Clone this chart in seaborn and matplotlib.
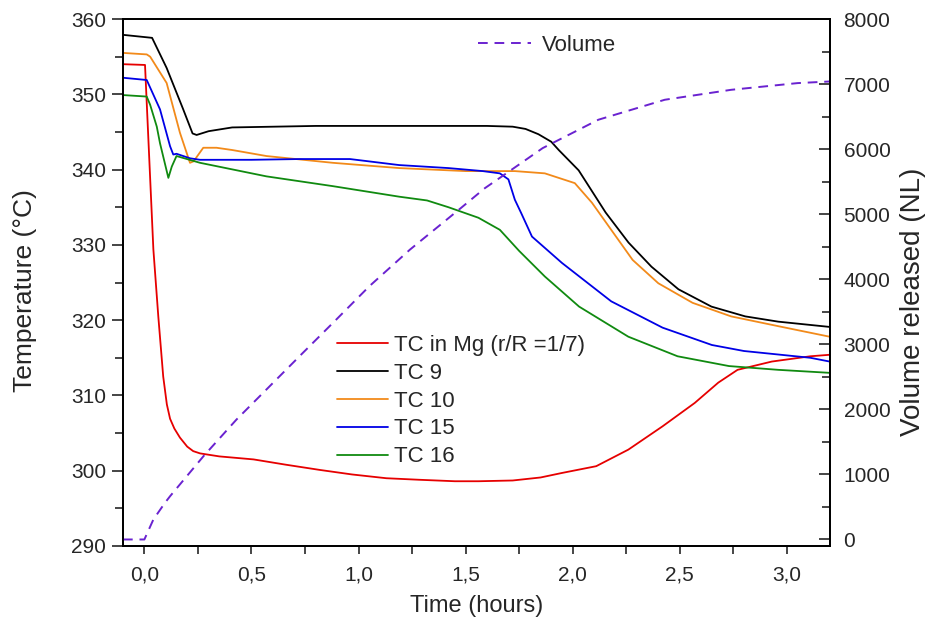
import matplotlib
matplotlib.use("Agg")
import matplotlib.pyplot as plt
from matplotlib.ticker import MultipleLocator, FuncFormatter
import seaborn as sns

# time (hours) and temperature (deg C)
mg_t = [-0.10, 0.003, 0.042, 0.065, 0.088, 0.105, 0.12, 0.14, 0.166, 0.20, 0.228, 0.26, 0.35, 0.51, 0.66,
        0.82, 0.97, 1.13, 1.28, 1.45, 1.56, 1.72, 1.85, 1.95, 2.11, 2.26, 2.42, 2.57, 2.68, 2.77, 2.93, 3.11, 3.20]
mg_T = [354.0, 353.9, 329.4, 320.5, 312.5, 308.8, 306.9, 305.6, 304.4, 303.2, 302.6, 302.3, 301.9, 301.5, 300.8,
        300.1, 299.5, 299.0, 298.8, 298.6, 298.6, 298.7, 299.1, 299.7, 300.6, 302.8, 305.9, 309.0, 311.7, 313.4,
        314.5, 315.2, 315.4]

tc9_t = [-0.10, 0.036, 0.104, 0.18, 0.225, 0.244, 0.30, 0.41, 0.80, 1.20, 1.60, 1.72, 1.78, 1.84, 1.90,
         1.935, 2.028, 2.154, 2.261, 2.368, 2.494, 2.648, 2.806, 2.96, 3.20]
tc9_T = [357.9, 357.5, 353.5, 348.1, 344.8, 344.6, 345.1, 345.6, 345.8, 345.8, 345.8, 345.7, 345.4, 344.7, 343.7,
         342.6, 339.9, 334.3, 330.3, 327.1, 324.1, 321.8, 320.5, 319.8, 319.1]

tc10_t = [-0.10, 0.011, 0.027, 0.104, 0.166, 0.213, 0.23, 0.275, 0.337, 0.41, 0.57, 0.88, 1.19, 1.50,
          1.73, 1.87, 2.01, 2.09, 2.18, 2.28, 2.40, 2.56, 2.74, 2.96, 3.20]
tc10_T = [355.5, 355.3, 355.0, 351.5, 344.9, 340.9, 341.1, 342.9, 342.9, 342.6, 341.8, 340.9, 340.2, 339.8,
          339.8, 339.5, 338.2, 335.6, 332.0, 328.0, 324.9, 322.3, 320.5, 319.2, 317.8]

tc15_t = [-0.10, 0.011, 0.073, 0.12, 0.135, 0.15, 0.213, 0.26, 0.50, 0.725, 0.96, 1.19, 1.42, 1.58,
          1.66, 1.70, 1.73, 1.76, 1.81, 1.95, 2.18, 2.42, 2.65, 2.80, 3.11, 3.20]
tc15_T = [352.2, 351.9, 348.0, 343.1, 342.0, 342.1, 341.5, 341.3, 341.3, 341.4, 341.4, 340.6, 340.2, 339.8,
          339.5, 338.7, 336.0, 334.2, 331.1, 327.6, 322.5, 319.0, 316.7, 315.9, 315.0, 314.5]

tc16_t = [-0.10, 0.011, 0.027, 0.058, 0.073, 0.112, 0.128, 0.15, 0.26, 0.57, 0.88, 1.19, 1.32, 1.42,
          1.56, 1.66, 1.75, 1.87, 2.03, 2.26, 2.49, 2.73, 2.96, 3.20]
tc16_T = [349.9, 349.7, 348.6, 345.7, 343.5, 338.9, 340.4, 341.8, 340.9, 339.1, 337.8, 336.4, 335.9, 335.0,
          333.6, 332.0, 329.2, 325.8, 321.8, 317.8, 315.2, 313.9, 313.4, 313.0]

# released volume (NL)
vol_t = [-0.10, 0.0, 0.042, 0.096, 0.12, 0.276, 0.43, 0.585, 0.74, 0.896, 1.05, 1.24, 1.48, 1.59,
         1.70, 1.86, 1.91, 2.12, 2.43, 2.74, 3.05, 3.20]
vol_V = [0, 0, 307, 563, 665, 1280, 1843, 2355, 2868, 3380, 3891, 4455, 5100, 5400,
         5650, 6016, 6100, 6452, 6759, 6912, 7015, 7040]

sns.set_theme(style="ticks")
plt.rcParams['font.family'] = ['Liberation Sans', 'DejaVu Sans']

fig = plt.figure(figsize=(9.28, 6.28), dpi=100)
ax = fig.add_axes([0.1325, 0.1306, 0.7615, 0.8391])
ax2 = ax.twinx()

series = [
    (mg_t, mg_T, "#e60000", "TC in Mg (r/R =1/7)"),
    (tc9_t, tc9_T, "black", "TC 9"),
    (tc10_t, tc10_T, "#f28a1a", "TC 10"),
    (tc15_t, tc15_T, "#0000e6", "TC 15"),
    (tc16_t, tc16_T, "#108a10", "TC 16"),
]
for t, T, col, lab in series:
    sns.lineplot(x=t, y=T, ax=ax, color=col, lw=1.3, label=lab, sort=False)

sns.lineplot(x=vol_t, y=vol_V, ax=ax2, color="#6a22d0", lw=1.4, label="Volume",
             sort=False, linestyle=(0, (5, 3.5)))

ax.set_xlim(-0.1, 3.2)
ax.set_ylim(290, 360)
ax2.set_ylim(-100, 8000)

ax.xaxis.set_major_locator(MultipleLocator(0.5))
ax.xaxis.set_minor_locator(MultipleLocator(0.25))
ax.xaxis.set_major_formatter(FuncFormatter(lambda v, p: f"{v:.1f}".replace('.', ',')))
ax.yaxis.set_major_locator(MultipleLocator(10))
ax.yaxis.set_minor_locator(MultipleLocator(5))
ax2.yaxis.set_major_locator(MultipleLocator(1000))
ax2.yaxis.set_minor_locator(MultipleLocator(500))

for a in (ax, ax2):
    for s in a.spines.values():
        s.set_visible(True)
        s.set_linewidth(1.3)
        s.set_color("black")
    a.grid(False)

ax.tick_params(axis='x', which='both', direction='out', length=6, width=1.2, labelsize=15, pad=8,
               top=False)
ax.tick_params(axis='y', which='major', direction='out', length=8, width=1.2, labelsize=15, pad=4)
ax.tick_params(axis='y', which='minor', direction='out', length=6, width=1.2)
ax2.tick_params(axis='y', which='major', direction='in', length=8, width=1.2, labelsize=15, pad=10)
ax2.tick_params(axis='y', which='minor', direction='in', length=6, width=1.2)

ax.set_xlabel("Time (hours)", fontsize=17)
ax.set_ylabel("Temperature (°C)", fontsize=19)
ax2.set_ylabel("Volume released (NL)", fontsize=20)
ax.xaxis.set_label_coords(0.5, -0.093)
ax.yaxis.set_label_coords(-0.122, 0.484)
ax2.yaxis.set_label_coords(1.10, 0.463)

ax.legend(loc='upper left', bbox_to_anchor=(0.363, 0.467), bbox_transform=fig.transFigure,
          frameon=False, fontsize=16, handlelength=2.3, handletextpad=0.25, labelspacing=0.31,
          borderpad=0, borderaxespad=0)
ax2.legend(loc='upper left', bbox_to_anchor=(0.515, 0.944), bbox_transform=fig.transFigure,
           frameon=False, fontsize=16, handlelength=2.4, handletextpad=0.5,
           borderpad=0, borderaxespad=0)

fig.savefig("out.png", dpi=100)
